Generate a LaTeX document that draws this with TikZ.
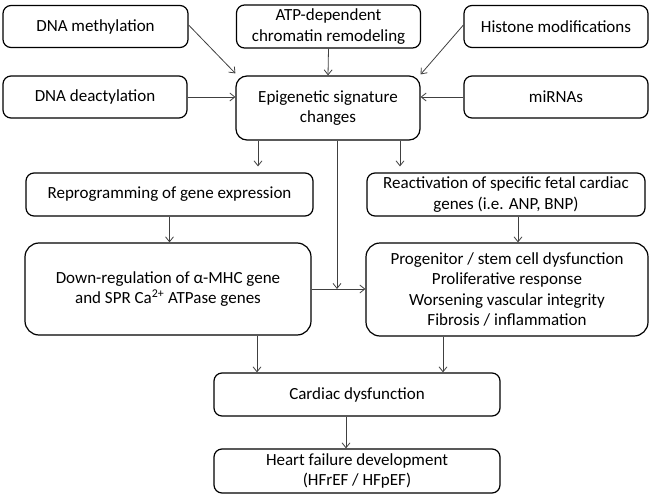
\documentclass[tikz,border=0pt]{standalone}
\usepackage{fontspec}
\setmainfont{Carlito}
\usetikzlibrary{arrows.meta,calc}
\begin{document}
\begin{tikzpicture}[x=1pt,y=-1pt,
  box/.style={draw=black,line width=1.2pt,rounded corners=8pt,inner sep=0pt,align=center,
    font=\fontsize{17}{20.5}\selectfont},
  bigbox/.style={box,rounded corners=14pt},
  arr/.style={draw=black!75,line width=0.8pt,-{Straight Barb[length=5pt,width=8pt]}}]
\useasboundingbox (0,0) rectangle (652,497);
\node[box,minimum width=185pt,minimum height=42pt] (meth) at (95.5,26.5) {DNA methylation};
\node[box,minimum width=184pt,minimum height=43pt] (atp) at (328.5,26.5) {ATP-dependent\\chromatin remodeling};
\node[box,minimum width=184pt,minimum height=42pt] (hist) at (556,26.5) {Histone modifications};
\node[box,minimum width=184pt,minimum height=42pt] (deact) at (95,97) {DNA deactylation};
\node[box,rounded corners=11pt,minimum width=184pt,minimum height=64pt] (epi) at (328,108) {Epigenetic signature\\changes};
\node[box,minimum width=184pt,minimum height=42pt] (mirna) at (556,97) {miRNAs};
\node[box,minimum width=287pt,minimum height=43pt] (reprog) at (169.5,194.5) {Reprogramming of gene expression};
\node[box,minimum width=278pt,minimum height=43pt] (react) at (506,194.5) {Reactivation of specific fetal cardiac\\genes (i.e. ANP, BNP)};
\node[bigbox,minimum width=286pt,minimum height=92pt] (down) at (168,289) {Down-regulation of α-MHC gene\\and SPR Ca\textsuperscript{2+} ATPase genes};
\node[bigbox,minimum width=282pt,minimum height=93pt] (prog) at (507,289.5) {Progenitor / stem cell dysfunction\\Proliferative response\\Worsening vascular integrity\\Fibrosis / inflammation};
\node[box,minimum width=286pt,minimum height=43pt] (card) at (357,394.5) {Cardiac dysfunction};
\node[box,minimum width=286pt,minimum height=44pt] (heart) at (357,471) {Heart failure development\\(HFrEF / HFpEF)};
% inputs
\draw[arr] ([yshift=1.5pt]meth.east) -- ([yshift=2pt]epi.north west);
\draw[arr] ([yshift=1.5pt]hist.west) -- ([yshift=1pt]epi.north east);
\draw[arr] (atp.south) -- (epi.north);
\draw[arr] (deact.east) -- (deact.east -| epi.west);
\draw[arr] (mirna.west) -- (mirna.west -| epi.east);
% outputs of epi
\draw[arr,shorten >=6pt] ([xshift=-70pt]epi.south) -- ([xshift=-70pt]epi.south |- reprog.north);
\draw[arr,shorten >=6pt] ([xshift=72pt]epi.south) -- ([xshift=72pt]epi.south |- react.north);
\draw[arr] ([xshift=9pt]epi.south) -- ([xshift=9pt]epi.south |- down.east);
% middle
\draw[arr] (reprog.south) -- (reprog.south |- down.north);
\draw[arr] ([xshift=12pt]react.south) -- ([xshift=12pt]react.south |- prog.north);
\draw[arr] (down.east) -- (down.east -| prog.west);
% bottom
\draw[arr] ([xshift=89pt]down.south) -- ([xshift=89pt]down.south |- card.north);
\draw[arr] ([xshift=-64pt]prog.south) -- ([xshift=-64pt]prog.south |- card.north);
\draw[arr] ([xshift=-11pt]card.south) -- ([xshift=-11pt]card.south |- heart.north);
\end{tikzpicture}
\end{document}
